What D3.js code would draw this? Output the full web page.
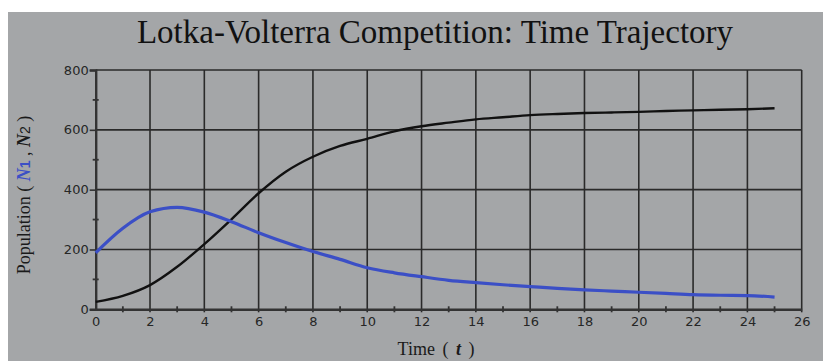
<!DOCTYPE html>
<html>
<head>
<meta charset="utf-8">
<script src="https://cdn.jsdelivr.net/npm/d3@7"></script>
<style>
  body { margin: 0; background: #fff; }
  svg { display: block; }
</style>
</head>
<body>
<svg id="chart" width="823" height="361"></svg>
<script>
// time points and the two populations
var times = [0,1,2,3,4,5,6,7,8,9,10,11,12,13,14,15,16,17,18,19,20,21,22,23,24,25];
var n1 = [189,271,326,341,325,293,256,223,193,167,139,122,109,97,89,82,76,70,65,61,57,53,49,47,46,41];
var n2 = [25,45,81,142,218,301,388,460,510,546,570,595,612,624,635,642,649,653,656,658,660,663,665,667,669,672];
var xTicks = [0,2,4,6,8,10,12,14,16,18,20,22,24,26];
var xMinor = [1,3,5,7,9,11,13,15,17,19,21,23,25];
var yTicks = [0,200,400,600,800];
var yMinor = [100,300,500,700];

var width = 823, height = 361;
var svg = d3.select("#chart");

// grey panel
svg.append("rect").attr("x", 8).attr("y", 12).attr("width", width - 8).attr("height", height - 12)
  .attr("fill", "#a4a6a8");

var x = d3.scaleLinear().domain([0, 26]).range([95.7, 801.7]);
var y = d3.scaleLinear().domain([0, 800]).range([309.3, 70]);

var g = svg.append("g");

// grid
g.selectAll("line.vgrid").data(xTicks.slice(1)).enter().append("line")
  .attr("class", "vgrid")
  .attr("x1", function(d) { return x(d); }).attr("x2", function(d) { return x(d); })
  .attr("y1", y(800)).attr("y2", y(0) + 3)
  .attr("stroke", "#2a2a2a").attr("stroke-width", 1.6);
g.selectAll("line.hgrid").data(yTicks.slice(1)).enter().append("line")
  .attr("class", "hgrid")
  .attr("x1", x(0)).attr("x2", x(26))
  .attr("y1", function(d) { return y(d); }).attr("y2", function(d) { return y(d); })
  .attr("stroke", "#2a2a2a").attr("stroke-width", 1.6);

// axes
var xAxis = d3.axisBottom(x).tickValues(xTicks).tickSize(0).tickPadding(7).tickFormat(d3.format("d"));
var yAxis = d3.axisLeft(y).tickValues(yTicks).tickSize(6).tickPadding(1).tickFormat(d3.format("d"));

var gx = g.append("g").attr("transform", "translate(0," + y(0) + ")").call(xAxis);
var gy = g.append("g").attr("transform", "translate(" + x(0) + ",0)").call(yAxis);
[gx, gy].forEach(function(a) {
  a.select(".domain").attr("stroke", "#333").attr("stroke-width", 2.4);
  a.selectAll(".tick line").attr("stroke", "#333").attr("stroke-width", 1.6);
  a.selectAll(".tick text").attr("fill", "#262626")
    .style("font-family", "'DejaVu Sans', Verdana, sans-serif").style("font-size", "13px");
});

// minor ticks crossing the axes
g.selectAll("line.xminor").data(xMinor).enter().append("line")
  .attr("x1", function(d) { return x(d); }).attr("x2", function(d) { return x(d); })
  .attr("y1", y(0) - 3).attr("y2", y(0) + 3)
  .attr("stroke", "#333").attr("stroke-width", 1.8);
g.selectAll("line.yminor").data(yMinor).enter().append("line")
  .attr("x1", x(0) - 3).attr("x2", x(0) + 3)
  .attr("y1", function(d) { return y(d); }).attr("y2", function(d) { return y(d); })
  .attr("stroke", "#333").attr("stroke-width", 1.8);

// curves
var line = d3.line().curve(d3.curveMonotoneX)
  .x(function(d) { return x(d[0]); })
  .y(function(d) { return y(d[1]); });

g.append("path").datum(d3.zip(times, n2))
  .attr("fill", "none").attr("stroke", "#111").attr("stroke-width", 2.4)
  .attr("d", line);
g.append("path").datum(d3.zip(times, n1))
  .attr("fill", "none").attr("stroke", "#3b4fc6").attr("stroke-width", 3.2)
  .attr("d", line);

// title
svg.append("text").attr("x", 435).attr("y", 43).attr("text-anchor", "middle")
  .style("font-family", "'Liberation Serif', 'Times New Roman', serif").style("font-size", "33px")
  .attr("fill", "#111")
  .text("Lotka-Volterra Competition: Time Trajectory");

// y label
var yl = svg.append("text").attr("transform", "translate(30,195) rotate(-90)")
  .attr("text-anchor", "middle")
  .style("font-family", "'Liberation Serif', 'Times New Roman', serif").style("font-size", "18px")
  .attr("fill", "#1a1a1a");
yl.append("tspan").text("Population ( ");
yl.append("tspan").attr("fill", "#3b4fc6").style("font-style", "italic").style("font-weight", "bold").text("N");
yl.append("tspan").attr("fill", "#3b4fc6").style("font-weight", "bold").style("font-family", "'Liberation Sans', sans-serif").style("font-size", "14px").text("1");
yl.append("tspan").text(" , ");
yl.append("tspan").style("font-style", "italic").style("font-weight", "bold").text("N");
yl.append("tspan").style("font-family", "'Liberation Sans', sans-serif").style("font-size", "14px").text("2");
yl.append("tspan").text(" )");

// x label
var xl = svg.append("text").attr("x", 436).attr("y", 355).attr("text-anchor", "middle")
  .style("font-family", "'Liberation Serif', 'Times New Roman', serif").style("font-size", "18px")
  .style("word-spacing", "3px")
  .attr("fill", "#1a1a1a");
xl.append("tspan").text("Time ( ");
xl.append("tspan").style("font-style", "italic").style("font-weight", "bold").text("t");
xl.append("tspan").text(" )");
</script>
</body>
</html>
